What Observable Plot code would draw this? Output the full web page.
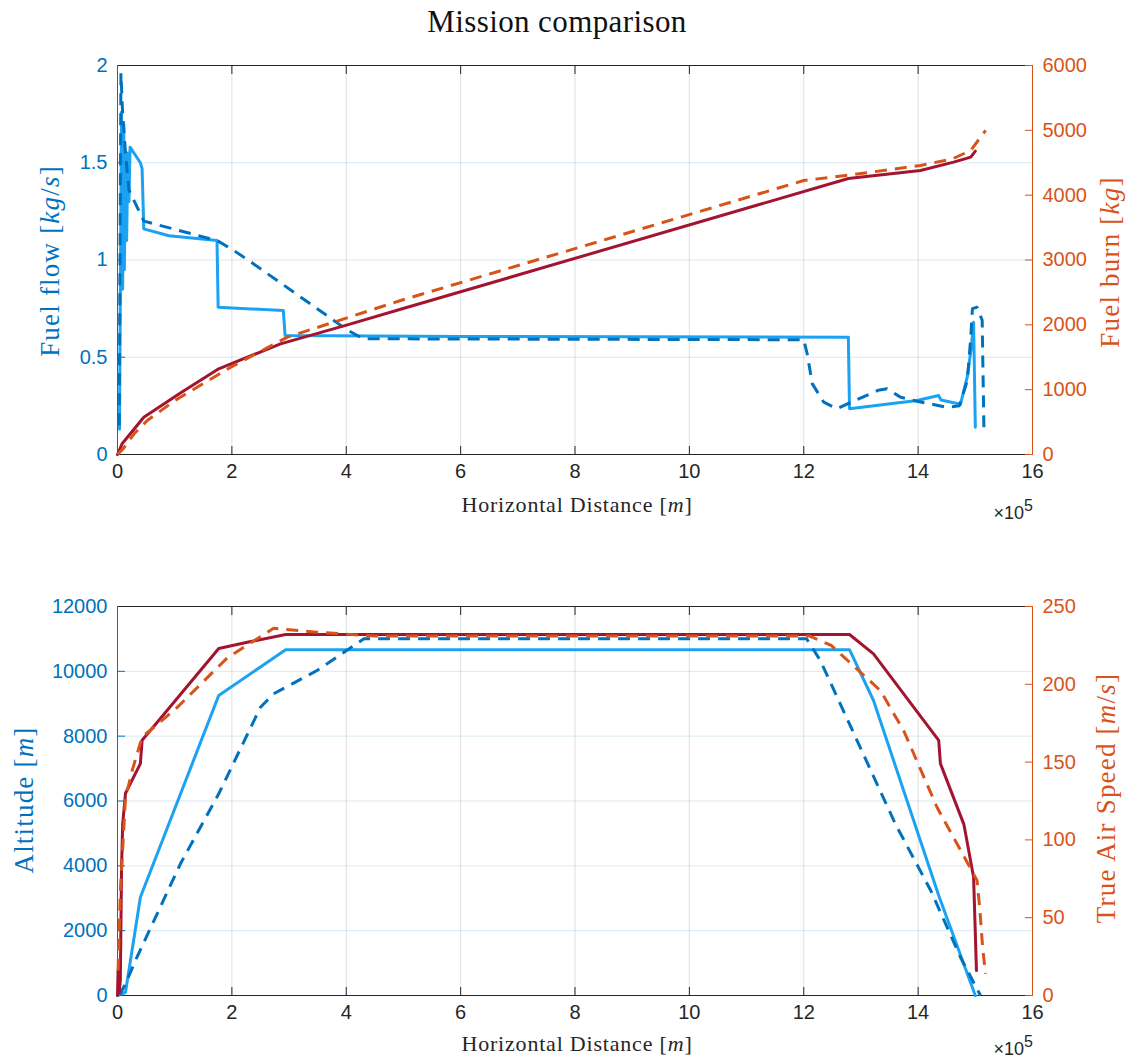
<!DOCTYPE html>
<html>
<head>
<meta charset="utf-8">
<script src="https://cdn.jsdelivr.net/npm/d3@7"></script>
<script src="https://cdn.jsdelivr.net/npm/@observablehq/plot@0.6"></script>
<style>
  body { margin: 0; background: #fff; }
  #fig { position: relative; width: 1141px; height: 1064px; background: #fff; overflow: hidden; }
  #fig svg { position: absolute; left: 0; }
  .serif { font-family: "Liberation Serif", "Times New Roman", serif; color: #262626; }
  .title { position: absolute; left: 0; top: 4px; width: 1114px; text-align: center; font-size: 31px; line-height: 36px; color: #111; letter-spacing: 0.4px; }
  .xlab { position: absolute; transform: translate(-50%, -50%); white-space: nowrap; font-size: 22px; letter-spacing: 0.8px; }
  .ylab { position: absolute; transform: translate(-50%, -50%) rotate(-90deg); white-space: nowrap; font-size: 27px; letter-spacing: 1.2px; }
  .exp { position: absolute; font-family: "Liberation Sans", Arial, sans-serif; font-size: 18px; line-height: 20px; color: #262626; white-space: nowrap; transform: translate(-100%, -50%); }
  .exp sup { font-size: 16px; line-height: 0; position: relative; top: -1px; }
</style>
</head>
<body>
<div id="fig"></div>
<script>
// ---------- tick values ----------
const distTicks = [0, 2, 4, 6, 8, 10, 12, 14, 16];          // x 1e5 m
const flowTicks = [0, 0.5, 1, 1.5, 2];                      // kg/s
const burnTicks = [0, 1000, 2000, 3000, 4000, 5000, 6000];  // kg
const altTicks  = [0, 2000, 4000, 6000, 8000, 10000, 12000];// m
const tasTicks  = [0, 50, 100, 150, 200, 250];              // m/s

// ---------- top panel: fuel flow [kg/s] ----------
const flowSolidX = [0.035, 0.05, 0.07, 0.09, 0.11, 0.12, 0.14, 0.16, 0.18, 0.20, 0.22, 0.40, 0.43, 0.46, 0.90, 1.74, 1.76, 2.90, 2.93, 6.0, 12.78, 12.80, 13.98, 14.36, 14.40, 14.74, 14.86, 14.93, 14.97, 15.0];
const flowSolidY = [0.13, 0.83, 1.76, 0.85, 1.70, 0.95, 1.55, 1.10, 1.55, 1.30, 1.58, 1.50, 1.47, 1.16, 1.125, 1.10, 0.757, 0.74, 0.612, 0.607, 0.603, 0.235, 0.278, 0.303, 0.28, 0.258, 0.40, 0.55, 0.68, 0.14];

const flowDashX = [0.03, 0.06, 0.09, 0.14, 0.20, 0.46, 1.74, 2.03, 2.38, 4.02, 4.30, 12.0, 12.06, 12.15, 12.35, 12.58, 12.90, 13.30, 13.46, 13.69, 13.98, 14.50, 14.72, 14.86, 14.92, 14.95, 15.03, 15.12, 15.15];
const flowDashY = [0.15, 1.96, 1.75, 1.55, 1.36, 1.20, 1.10, 1.05, 0.98, 0.64, 0.595, 0.59, 0.518, 0.363, 0.269, 0.235, 0.278, 0.33, 0.338, 0.295, 0.274, 0.243, 0.25, 0.38, 0.60, 0.75, 0.757, 0.69, 0.14];

// ---------- top panel: fuel burn [kg] ----------
const burnSolidX = [0, 0.08, 0.46, 1.1, 1.77, 2.85, 4.02, 4.95, 12.78, 14.04, 14.62, 14.92, 15.0];
const burnSolidY = [0, 165, 575, 950, 1322, 1707, 2000, 2240, 4257, 4381, 4509, 4586, 4680];

const burnDashX = [0, 0.1, 0.29, 0.52, 1.0, 1.98, 2.97, 4.95, 12.0, 12.8, 14.04, 14.6, 14.92, 15.18];
const burnDashY = [0, 90, 319, 524, 830, 1347, 1810, 2375, 4226, 4310, 4458, 4560, 4689, 4998];

// ---------- bottom panel: altitude [m] ----------
const altSolidX = [0, 0.14, 0.40, 1.77, 2.94, 12.8, 13.22, 14.36, 15.0];
const altSolidY = [0, 100, 3033, 9254, 10668, 10668, 9100, 3085, 0];

const altDashX = [0.03, 0.14, 0.34, 1.1, 1.77, 2.5, 2.73, 3.49, 4.31, 12.05, 12.29, 13.6, 14.22, 14.74, 15.09];
const altDashY = [0, 360, 1180, 4062, 6222, 8894, 9307, 10026, 11003, 11003, 10334, 5300, 3240, 1182, 0];

// ---------- bottom panel: true air speed [m/s] ----------
const tasSolidX = [0, 0.01, 0.03, 0.05, 0.07, 0.09, 0.14, 0.40, 0.43, 0.75, 1.77, 2.27, 2.94, 12.8, 13.22, 14.36, 14.39, 14.80, 14.97, 15.02];
const tasSolidY = [0, 16, 2, 10, 80, 110, 130, 149, 164, 178, 223, 227, 232, 232, 219.6, 164, 149, 110, 76, 16];

const tasDashX = [0.01, 0.05, 0.14, 0.26, 0.43, 1.04, 1.92, 2.73, 3.49, 4.5, 12.1, 12.48, 13.34, 13.75, 14.33, 15.03, 15.08, 15.13, 15.18];
const tasDashY = [16, 67, 127, 145, 166, 185, 217, 236, 233.5, 231, 231, 225, 196, 170, 121, 74, 55, 30, 14];

// ---------- styling constants ----------
const BLUE = "#0072BD", LIGHTBLUE = "#1ca2f2", RED = "#A2142F", ORANGE = "#D95319", INK = "#262626";
const W = 1141, ML = 117, MR = 109, TICK = 8, LW = 3, DASH = "12,8";
const xDomain = [0, 16];
const font = "'Liberation Sans', Arial, sans-serif";
const pts = (xs, ys) => xs.map((x, i) => ({x, y: ys[i]}));
const fmt = d => `${d}`;

function leftPlot({height, marginTop, marginBottom, yDomain, yTicks, solid, dashed}) {
  return Plot.plot({
    width: W, height, marginTop, marginBottom, marginLeft: ML, marginRight: MR,
    style: {background: "transparent", fontFamily: font, fontSize: "20px", overflow: "visible"},
    x: {domain: xDomain},
    y: {domain: yDomain},
    marks: [
      Plot.gridX(distTicks, {stroke: INK, strokeOpacity: 0.15}),
      Plot.gridY(yTicks, {stroke: BLUE, strokeOpacity: 0.15}),
      Plot.axisX(distTicks, {anchor: "bottom", tickSize: 0, tickPadding: 9, color: INK, fontSize: 20, label: null, tickFormat: fmt}),
      Plot.axisX(distTicks, {anchor: "bottom", tickSize: TICK, dy: -TICK, fill: "none", stroke: INK, label: null}),
      Plot.axisX(distTicks, {anchor: "top", tickSize: TICK, dy: TICK, fill: "none", stroke: INK, label: null}),
      Plot.axisY(yTicks, {anchor: "left", tickSize: 0, tickPadding: 10, color: BLUE, fontSize: 20, label: null, tickFormat: fmt}),
      Plot.axisY(yTicks, {anchor: "left", tickSize: TICK, dx: TICK, fill: "none", stroke: BLUE, label: null}),
      Plot.ruleY([yDomain[1]], {stroke: INK}),
      Plot.ruleY([yDomain[0]], {stroke: INK}),
      Plot.ruleX([xDomain[0]], {stroke: BLUE}),
      Plot.line(solid, {x: "x", y: "y", stroke: LIGHTBLUE, strokeWidth: LW}),
      Plot.line(dashed, {x: "x", y: "y", stroke: BLUE, strokeWidth: LW, strokeDasharray: DASH, strokeLinecap: "butt"})
    ]
  });
}

function rightPlot({height, marginTop, marginBottom, yDomain, yTicks, solid, dashed}) {
  return Plot.plot({
    width: W, height, marginTop, marginBottom, marginLeft: ML, marginRight: MR,
    style: {background: "transparent", fontFamily: font, fontSize: "20px", overflow: "visible", pointerEvents: "none"},
    x: {domain: xDomain, axis: null},
    y: {domain: yDomain},
    marks: [
      Plot.axisY(yTicks, {anchor: "right", tickSize: 0, tickPadding: 10, color: ORANGE, fontSize: 20, label: null, tickFormat: fmt}),
      Plot.axisY(yTicks, {anchor: "right", tickSize: TICK, dx: -TICK, fill: "none", stroke: ORANGE, label: null}),
      Plot.ruleX([xDomain[1]], {stroke: ORANGE}),
      Plot.line(solid, {x: "x", y: "y", stroke: RED, strokeWidth: LW}),
      Plot.line(dashed, {x: "x", y: "y", stroke: ORANGE, strokeWidth: LW, strokeDasharray: DASH, strokeLinecap: "butt"})
    ]
  });
}

const fig = document.getElementById("fig");
function place(el, top) { el.style.top = top + "px"; fig.appendChild(el); }

// top panel: frame 65..454
const topCfg = {height: 490, marginTop: 25, marginBottom: 76};
place(leftPlot({...topCfg, yDomain: [0, 2], yTicks: flowTicks, solid: pts(flowSolidX, flowSolidY), dashed: pts(flowDashX, flowDashY)}), 40);
place(rightPlot({...topCfg, yDomain: [0, 6000], yTicks: burnTicks, solid: pts(burnSolidX, burnSolidY), dashed: pts(burnDashX, burnDashY)}), 40);

// bottom panel: frame 606..995
const botCfg = {height: 484, marginTop: 26, marginBottom: 69};
place(leftPlot({...botCfg, yDomain: [0, 12000], yTicks: altTicks, solid: pts(altSolidX, altSolidY), dashed: pts(altDashX, altDashY)}), 580);
place(rightPlot({...botCfg, yDomain: [0, 250], yTicks: tasTicks, solid: pts(tasSolidX, tasSolidY), dashed: pts(tasDashX, tasDashY)}), 580);

// text
function addDiv(cls, html, left, top, color) {
  const d = document.createElement("div");
  d.className = cls;
  d.innerHTML = html;
  d.style.left = left + "px";
  d.style.top = top + "px";
  if (color) d.style.color = color;
  fig.appendChild(d);
}
addDiv("title serif", "Mission comparison", 0, 4);
addDiv("xlab serif", "Horizontal Distance [<i>m</i>]", 577, 505);
addDiv("xlab serif", "Horizontal Distance [<i>m</i>]", 577, 1044);
addDiv("exp", "×10<sup>5</sup>", 1033, 513);
addDiv("exp", "×10<sup>5</sup>", 1033, 1049);
addDiv("ylab serif", "Fuel flow [<i>kg</i>/<i>s</i>]", 50, 261, BLUE);
addDiv("ylab serif", "Fuel burn [<i>kg</i>]", 1110, 262, ORANGE);
addDiv("ylab serif", "Altitude [<i>m</i>]", 24, 800, BLUE);
addDiv("ylab serif", "True Air Speed [<i>m</i>/<i>s</i>]", 1106, 798, ORANGE);
</script>
</body>
</html>
